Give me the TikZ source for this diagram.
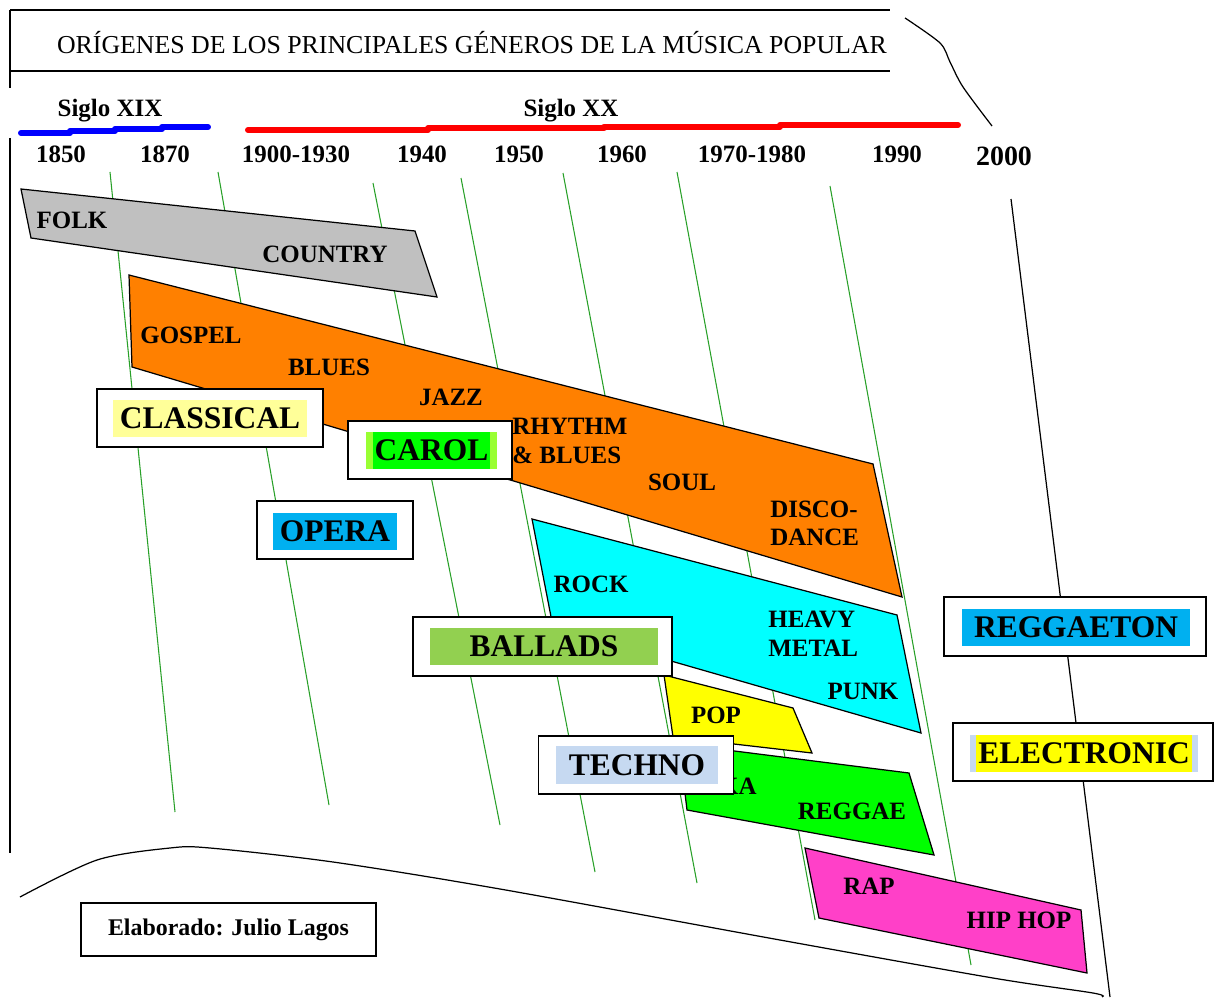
\documentclass[tikz,border=0pt]{standalone}
\usepackage{fontspec}
\setmainfont{Liberation Serif}
\definecolor{gridgreen}{RGB}{40,160,40}
\definecolor{folkgray}{RGB}{192,192,192}
\definecolor{bluesorange}{RGB}{255,128,0}
\definecolor{rockcyan}{RGB}{0,255,255}
\definecolor{popyellow}{RGB}{255,255,0}
\definecolor{skagreen}{RGB}{0,255,0}
\definecolor{rappink}{RGB}{255,64,200}
\definecolor{hlclassical}{RGB}{255,255,153}
\definecolor{hlcarolside}{RGB}{153,255,51}
\definecolor{hlblue}{RGB}{0,176,240}
\definecolor{hlballads}{RGB}{146,208,80}
\definecolor{hltechno}{RGB}{198,217,241}
\definecolor{lineblue}{RGB}{0,0,255}
\definecolor{linered}{RGB}{255,0,0}
\tikzset{
  gridline/.style={draw=gridgreen, line width=0.6pt},
  frameline/.style={draw=black, line width=0.7pt},
  genre/.style={draw=black, line width=0.7pt, line join=miter},
  lbl/.style={inner sep=0pt, font=\fontsize{14.2pt}{16.4pt}\selectfont\bfseries},
  lbll/.style={lbl, anchor=west},
  yearlbl/.style={inner sep=0pt, anchor=base, font=\fontsize{14.2pt}{16pt}\selectfont\bfseries},
  labelbox/.style={draw=black, line width=1.1pt, fill=white, inner sep=0pt, minimum height=1.16cm},
  hlbox/.style={inner sep=0pt, minimum height=0.74cm, font=\fontsize{17.9pt}{20pt}\selectfont\bfseries},
  centuryline/.style={line width=3.4pt, line cap=round, line join=round},
}
\begin{document}
\begin{tikzpicture}[x=0.02cm,y=-0.02cm]
\useasboundingbox (0,0) rectangle (1219,1000);
\fill[white] (0,0) rectangle (1219,1000);

% title frame
\draw[frameline] (10,10) -- (890,10);
\draw[frameline] (10,71) -- (890,71);
\draw[frameline] (10,10) -- (10,88);
\draw[frameline] (10,138) -- (10,853);
\node[inner sep=0pt, anchor=base, font=\fontsize{14.7pt}{16pt}\selectfont] (title) at (472,54) {ORÍGENES DE LOS PRINCIPALES GÉNEROS DE LA MÚSICA POPULAR};

% century labels and bars
\node[yearlbl] (s19) at (110,117) {Siglo XIX};
\node[yearlbl] (s20) at (571,117) {Siglo XX};
\draw[centuryline, draw=lineblue] (21,133) -- (70,133) -- (70,131) -- (115,131) -- (115,129) -- (162,129) -- (162,127) -- (208,127);
\draw[centuryline, draw=linered] (248,130) -- (428,130) -- (428,128.3) -- (604,128.3) -- (604,126.7) -- (780,126.7) -- (780,125) -- (958,125);

% years
\node[yearlbl] (y1850) at (61,163) {1850};
\node[yearlbl] (y1870) at (165,163) {1870};
\node[yearlbl] (y1900) at (296,163) {1900-1930};
\node[yearlbl] (y1940) at (422,163) {1940};
\node[yearlbl] (y1950) at (519,163) {1950};
\node[yearlbl] (y1960) at (622,163) {1960};
\node[yearlbl] (y1970) at (752,163) {1970-1980};
\node[yearlbl] (y1990) at (897,163) {1990};
\node[inner sep=0pt, anchor=base, font=\fontsize{15.9pt}{18pt}\selectfont\bfseries] (y2000) at (1004,166) {2000};

% decorative frame curves
\draw[frameline] plot[smooth] coordinates {(905,18) (940,43) (950,62) (963,87) (992,126)};
\draw[frameline] (1011,199) -- (1110,997);
\draw[frameline] plot[smooth] coordinates {(20,897) (97,860) (170,848) (210,848) (333,862) (500,889) (780,940) (993,978) (1093,993) (1102,997)};

% green decade lines
\draw[gridline] (110,172) -- (175,812);
\draw[gridline] (218,172) -- (329,805);
\draw[gridline] (373,183) -- (500,825);
\draw[gridline] (461,178) -- (595,872);
\draw[gridline] (563,173) -- (697,883);
\draw[gridline] (677,172) -- (815,920);
\draw[gridline] (830,186) -- (971,965);

% genre bands
\filldraw[genre, fill=folkgray] (21,189) -- (415,231) -- (437,297) -- (31,238) -- cycle;
\filldraw[genre, fill=bluesorange] (129,275) -- (873,464) -- (902,597) -- (132,367) -- cycle;
\filldraw[genre, fill=rockcyan] (532,519) -- (897,615) -- (921,733) -- (553,627) -- cycle;
\filldraw[genre, fill=popyellow] (664,675) -- (793,708) -- (812,753) -- (673,737) -- cycle;
\filldraw[genre, fill=skagreen] (679,744) -- (909,773) -- (934,855) -- (687,810) -- cycle;
\filldraw[genre, fill=rappink] (805,848) -- (1081,910) -- (1087,973) -- (819,918) -- cycle;

% genre labels
\node[lbl] (folk) at (72,220) {FOLK};
\node[lbl] (country) at (325,254) {COUNTRY};
\node[lbl] (gospel) at (191,335) {GOSPEL};
\node[lbl] (blues) at (329,367) {BLUES};
\node[lbl] (jazz) at (451,397) {JAZZ};
\node[lbll] (rhythm) at (512,426) {RHYTHM};
\node[lbll] (rblues) at (512,455) {\& BLUES};
\node[lbl] (soul) at (682,482) {SOUL};
\node[lbll] (disco) at (770,509) {DISCO-};
\node[lbll] (dance) at (770,537) {DANCE};
\node[lbl] (rock) at (591,584) {ROCK};
\node[lbll] (heavy) at (768,619) {HEAVY};
\node[lbll] (metal) at (768,648) {METAL};
\node[lbl] (punk) at (863,691) {PUNK};
\node[lbl] (pop) at (716,715) {POP};
\node[lbl] (ska) at (731,786) {SKA};
\node[lbl] (reggae) at (852,811) {REGGAE};
\node[lbl] (rap) at (869,886) {RAP};
\node[lbl] (hiphop) at (1019,920) {HIP HOP};

% labelled boxes
\node[labelbox, minimum width=4.52cm] (classicalbox) at (210,418) {};
\node[hlbox, fill=hlclassical, minimum width=3.88cm] (classical) at (210,418.5) {CLASSICAL};

\node[labelbox, minimum width=3.28cm] (carolbox) at (430,450) {};
\node[hlbox, fill=hlcarolside, minimum width=2.62cm] (carolside) at (431.5,450) {};
\node[hlbox, fill=skagreen, minimum width=2.34cm] (carol) at (431.5,450) {CAROL};

\node[labelbox, minimum width=3.12cm] (operabox) at (335,530) {};
\node[hlbox, fill=hlblue, minimum width=2.48cm] (opera) at (335,531) {OPERA};

\node[labelbox, minimum width=5.18cm, minimum height=1.18cm] (balladsbox) at (542.5,646.5) {};
\node[hlbox, fill=hlballads, minimum width=4.56cm] (ballads) at (544,646.5) {BALLADS};

\node[labelbox, minimum width=3.9cm] (technobox) at (636,765) {};
\node[hlbox, fill=hltechno, minimum width=3.24cm, minimum height=0.76cm] (techno) at (637,765) {TECHNO};

\node[labelbox, minimum width=5.24cm, minimum height=1.18cm] (reggaetonbox) at (1075,626.5) {};
\node[hlbox, fill=hlblue, minimum width=4.56cm] (reggaeton) at (1076,627.5) {REGGAETON};

\node[labelbox, minimum width=5.2cm] (electronicbox) at (1083,752) {};
\node[hlbox, fill=hltechno, minimum width=4.56cm] (electronicside) at (1084,753.5) {};
\node[hlbox, fill=popyellow, minimum width=4.32cm] (electronic) at (1084,753.5) {ELECTRONIC};

\node[draw=black, line width=1.1pt, fill=white, inner sep=0pt, minimum width=5.9cm, minimum height=1.06cm, font=\fontsize{13.6pt}{16pt}\selectfont\bfseries] (credit) at (228.5,929.5) {Elaborado: Julio Lagos};
\end{tikzpicture}
\end{document}
